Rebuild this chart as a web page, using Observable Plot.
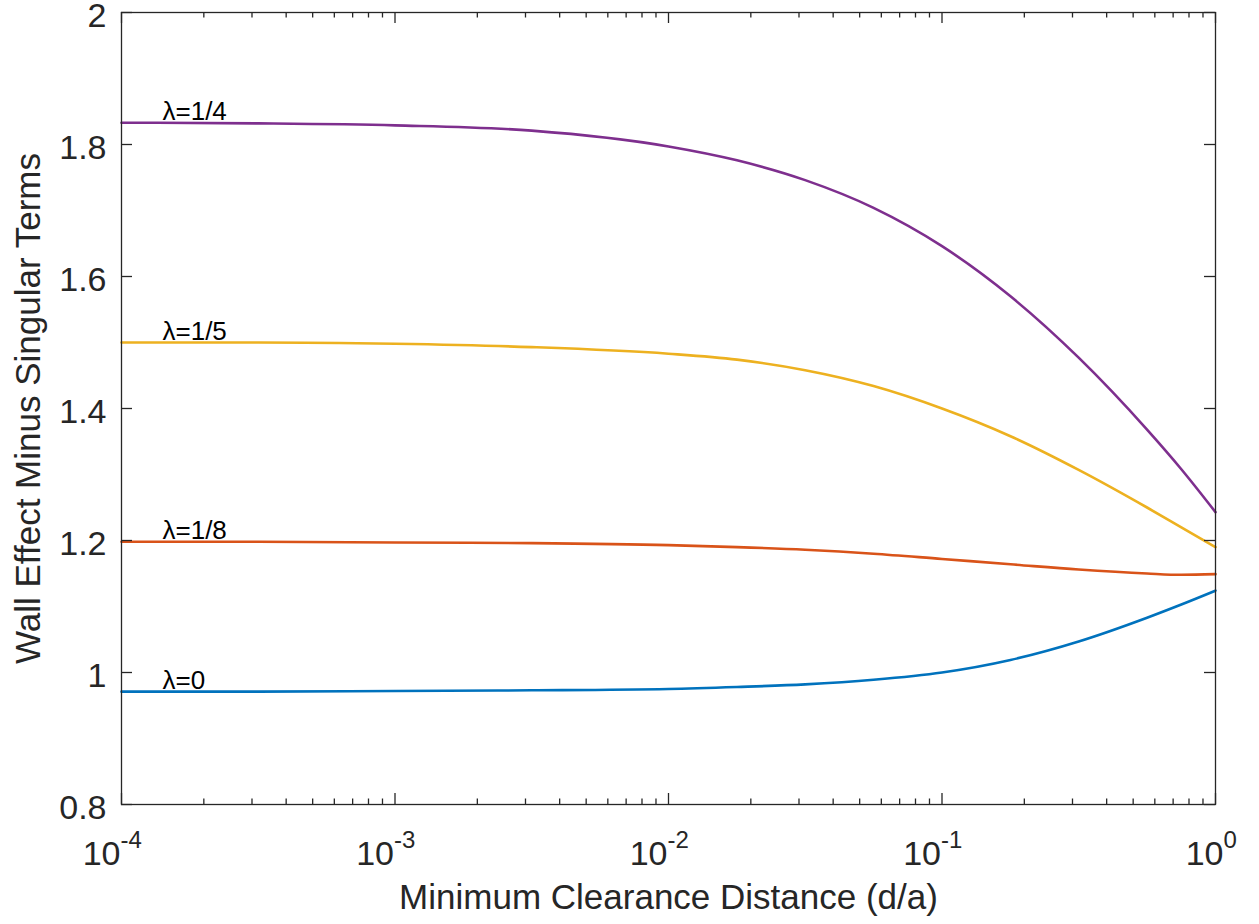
<!DOCTYPE html>
<html><head><meta charset="utf-8">
<script src="https://cdn.jsdelivr.net/npm/d3@7"></script>
<script src="https://cdn.jsdelivr.net/npm/@observablehq/plot@0.6"></script>
<style>
body{margin:0;background:#fff;}
#chart svg{display:block;}
</style></head>
<body><div id="chart"></div>
<script>
// Data
const distance  = [0.0001, 0.000316, 0.001, 0.00316, 0.01, 0.0178, 0.0316, 0.0562, 0.1, 0.178, 0.316, 0.562, 0.75, 1];
const lambda0   = [0.971, 0.971, 0.972, 0.973, 0.975, 0.978, 0.982, 0.989, 1.000, 1.019, 1.047, 1.083, 1.103, 1.124];
const lambda1_8 = [1.198, 1.198, 1.197, 1.196, 1.193, 1.190, 1.186, 1.180, 1.172, 1.164, 1.156, 1.150, 1.148, 1.149];
const lambda1_5 = [1.500, 1.500, 1.498, 1.493, 1.483, 1.474, 1.458, 1.434, 1.400, 1.358, 1.307, 1.250, 1.220, 1.190];
const lambda1_4 = [1.833, 1.832, 1.829, 1.821, 1.797, 1.776, 1.746, 1.704, 1.646, 1.570, 1.477, 1.368, 1.308, 1.243];

const seriesNames  = ["λ=0", "λ=1/8", "λ=1/5", "λ=1/4"];
const seriesValues = [lambda0, lambda1_8, lambda1_5, lambda1_4];
const seriesColors = ["#0072BD", "#D95319", "#EDB120", "#7E2F8E"];

const xMajorTicks = [0.0001, 0.001, 0.01, 0.1, 1];
const xExponents  = ["-4", "-3", "-2", "-1", "0"];
const yTicks      = [0.8, 1, 1.2, 1.4, 1.6, 1.8, 2];
const yTickLabels = ["0.8", "1", "1.2", "1.4", "1.6", "1.8", "2"];

const xLabel = "Minimum Clearance Distance (d/a)";
const yLabel = "Wall Effect Minus Singular Terms";

// Build tables
const rows = seriesNames.flatMap((name, s) =>
  distance.map((d, i) => ({series: name, d, v: seriesValues[s][i]})));
const starts = seriesNames.map((name, s) => ({series: name, d: distance[0], v: seriesValues[s][0]}));
const minorTicks = [];
for (let k = -4; k < 0; k++) for (let m = 2; m <= 9; m++) minorTicks.push(m * Math.pow(10, k));
const majors = xMajorTicks.map((v, i) => ({v, e: xExponents[i]}));
const majorsNeg = majors.filter(t => t.e.startsWith("-"));
const majorsPos = majors.filter(t => !t.e.startsWith("-"));

const W = 1259, H = 924, mL = 121, mR = 44, mT = 12, mB = 120;
const pw = W - mL - mR, ph = H - mT - mB;
const axisColor = "#262626";
const font = "'Liberation Sans', Arial, Helvetica, sans-serif";
const tickFS = 34, expFS = 24, labFS = 35, lamFS = 26;

const chart = Plot.plot({
  width: W, height: H,
  marginLeft: mL, marginRight: mR, marginTop: mT, marginBottom: mB,
  style: {fontFamily: font, background: "#fff", color: axisColor},
  x: {type: "log", domain: [0.0001, 1], axis: null},
  y: {domain: [0.8, 2], axis: null},
  color: {domain: seriesNames, range: seriesColors},
  marks: [
    // curves
    Plot.line(rows, {x: "d", y: "v", z: "series", stroke: "series", strokeWidth: 2.6, curve: "monotone-x"}),
    // curve labels
    Plot.text(starts, {x: "d", y: "v", text: "series", textAnchor: "start", lineAnchor: "bottom",
      dx: 41, dy: -3, fontSize: lamFS, fill: "#000"}),
    // frame
    Plot.frame({stroke: axisColor, strokeWidth: 1.3}),
    // x major ticks bottom/top
    Plot.tickX(xMajorTicks, {x: d => d, stroke: axisColor, strokeWidth: 1.3, insetTop: ph - 11}),
    Plot.tickX(xMajorTicks, {x: d => d, stroke: axisColor, strokeWidth: 1.3, insetBottom: ph - 11}),
    // x minor ticks bottom/top
    Plot.tickX(minorTicks, {x: d => d, stroke: axisColor, strokeWidth: 1.3, insetTop: ph - 5.5}),
    Plot.tickX(minorTicks, {x: d => d, stroke: axisColor, strokeWidth: 1.3, insetBottom: ph - 5.5}),
    // y ticks left/right
    Plot.tickY(yTicks, {y: d => d, stroke: axisColor, strokeWidth: 1.3, insetRight: pw - 11}),
    Plot.tickY(yTicks, {y: d => d, stroke: axisColor, strokeWidth: 1.3, insetLeft: pw - 11}),
    // y tick labels
    Plot.text(yTicks, {y: d => d, frameAnchor: "left", text: (d, i) => yTickLabels[i], textAnchor: "end",
      dx: -15, dy: 4, fontSize: tickFS, fill: axisColor}),
    // x tick labels: base "10" and exponent
    Plot.text(majorsNeg, {x: "v", frameAnchor: "bottom", text: () => "10", textAnchor: "end", lineAnchor: "bottom",
      dx: -1, dy: 60, fontSize: tickFS, fill: axisColor}),
    Plot.text(majorsNeg, {x: "v", frameAnchor: "bottom", text: "e", textAnchor: "start", lineAnchor: "bottom",
      dx: -1, dy: 43, fontSize: expFS, fill: axisColor}),
    Plot.text(majorsPos, {x: "v", frameAnchor: "bottom", text: () => "10", textAnchor: "end", lineAnchor: "bottom",
      dx: 8, dy: 60, fontSize: tickFS, fill: axisColor}),
    Plot.text(majorsPos, {x: "v", frameAnchor: "bottom", text: "e", textAnchor: "start", lineAnchor: "bottom",
      dx: 8, dy: 43, fontSize: expFS, fill: axisColor}),
    // axis labels
    Plot.text([xLabel], {frameAnchor: "bottom", text: d => d, textAnchor: "middle", lineAnchor: "bottom",
      dy: 104, fontSize: labFS, fill: axisColor}),
    Plot.text([yLabel], {frameAnchor: "left", text: d => d, rotate: -90, textAnchor: "middle", lineAnchor: "middle",
      dx: -93, fontSize: labFS, fill: axisColor})
  ]
});
document.getElementById("chart").appendChild(chart);
</script>
</body></html>
